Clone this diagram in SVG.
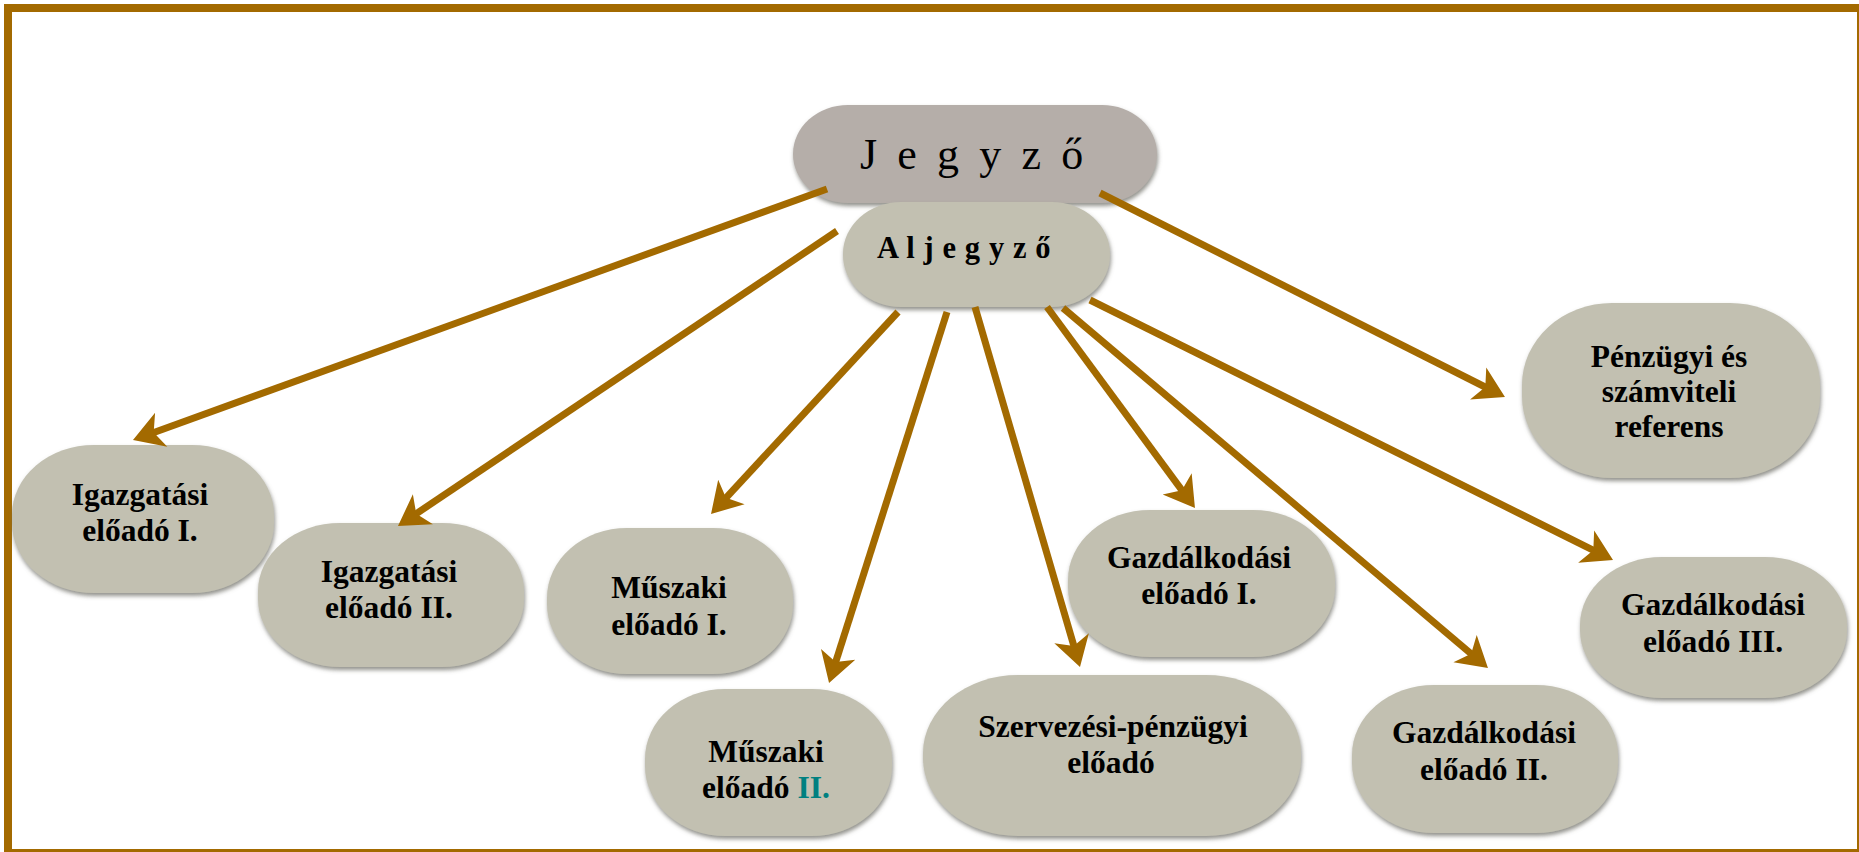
<svg xmlns="http://www.w3.org/2000/svg" width="1859" height="852" viewBox="0 0 1859 852">
<defs>
<filter id="sh" x="-10%" y="-10%" width="120%" height="125%">
<feGaussianBlur in="SourceAlpha" stdDeviation="2"/>
<feOffset dx="1" dy="3" result="b"/>
<feFlood flood-color="#6e6e66" flood-opacity="0.75"/>
<feComposite in2="b" operator="in"/>
<feMerge><feMergeNode/><feMergeNode in="SourceGraphic"/></feMerge>
</filter>
<marker id="ah" markerUnits="userSpaceOnUse" markerWidth="60" markerHeight="60" viewBox="-30 -30 60 60" refX="0" refY="0" orient="auto">
<path d="M20,0 L-10,-18 L-2,0 L-10,18 Z" fill="#A36A00"/>
</marker>
</defs>
<style>
.node{fill:#C2C0B1;filter:url(#sh)}
.top{fill:#B5AEA9;filter:url(#sh)}
.t{font-family:"Liberation Serif","Times New Roman",serif;font-weight:bold;font-size:31.5px;fill:#000;text-anchor:middle}
.c{fill:none;stroke:#A36A00;stroke-width:7;marker-end:url(#ah)}
</style>
<rect width="1859" height="852" fill="#fff"/>
<rect x="8" y="8" width="1853" height="845" fill="none" stroke="#A36A00" stroke-width="8"/>

<g id="n-jegyzo">
<rect class="top" x="793" y="105" width="364" height="98" rx="55" ry="49"/>
<text x="860" y="169" font-family="Liberation Serif, serif" font-size="44" letter-spacing="4.6">J e g y z ő</text>
</g>
<g id="n-aljegyzo">
<rect class="node" x="843" y="202" width="267" height="105" rx="58" ry="52"/>
<text x="877" y="258" font-family="Liberation Serif, serif" font-weight="bold" font-size="30.5" letter-spacing="0.6">A l j e g y z ő</text>
</g>
<g id="n-igazg1">
<rect class="node" x="12" y="445" width="262" height="148" rx="82" ry="70"/>
<text class="t" x="140" y="505">Igazgatási</text>
<text class="t" x="140" y="541">előadó I.</text>
</g>
<g id="n-igazg2">
<rect class="node" x="258" y="523" width="266" height="144" rx="82" ry="68"/>
<text class="t" x="389" y="582">Igazgatási</text>
<text class="t" x="389" y="618">előadó II.</text>
</g>
<g id="n-muszaki1">
<rect class="node" x="547" y="528" width="246" height="146" rx="80" ry="70"/>
<text class="t" x="669" y="598">Műszaki</text>
<text class="t" x="669" y="635">előadó I.</text>
</g>
<g id="n-muszaki2">
<rect class="node" x="645" y="689" width="247" height="147" rx="80" ry="70"/>
<text class="t" x="766" y="762">Műszaki</text>
<text class="t" x="766" y="798">előadó <tspan fill="#008080">II.</tspan></text>
</g>
<g id="n-szervezesi">
<rect class="node" x="923" y="675" width="378" height="161" rx="95" ry="78"/>
<text class="t" x="1113" y="737">Szervezési-pénzügyi</text>
<text class="t" x="1111" y="773">előadó</text>
</g>
<g id="n-gazd1">
<rect class="node" x="1068" y="510" width="267" height="147" rx="82" ry="70"/>
<text class="t" x="1199" y="568">Gazdálkodási</text>
<text class="t" x="1199" y="604">előadó I.</text>
</g>
<g id="n-gazd2">
<rect class="node" x="1352" y="685" width="266" height="148" rx="82" ry="70"/>
<text class="t" x="1484" y="743">Gazdálkodási</text>
<text class="t" x="1484" y="780">előadó II.</text>
</g>
<g id="n-gazd3">
<rect class="node" x="1580" y="557" width="267" height="141" rx="82" ry="68"/>
<text class="t" x="1713" y="615">Gazdálkodási</text>
<text class="t" x="1713" y="652">előadó III.</text>
</g>
<g id="n-penzugyi">
<rect class="node" x="1522" y="303" width="298" height="175" rx="90" ry="82"/>
<text class="t" x="1669" y="367">Pénzügyi és</text>
<text class="t" x="1669" y="402">számviteli</text>
<text class="t" x="1669" y="437">referens</text>
</g>

<g id="connectors">
<line class="c" x1="827" y1="189" x2="151.8" y2="433.2"/>
<line class="c" x1="1100" y1="193" x2="1487.1" y2="388"/>
<line class="c" x1="837" y1="231" x2="414.6" y2="514.8"/>
<line class="c" x1="898" y1="312" x2="724.6" y2="499.3"/>
<line class="c" x1="947" y1="312" x2="835.1" y2="663.9"/>
<line class="c" x1="975" y1="307" x2="1074.4" y2="647.8"/>
<line class="c" x1="1047" y1="307" x2="1183.1" y2="491.9"/>
<line class="c" x1="1063" y1="308" x2="1472.7" y2="655.1"/>
<line class="c" x1="1090" y1="300" x2="1595.1" y2="551.1"/>
</g>
</svg>
